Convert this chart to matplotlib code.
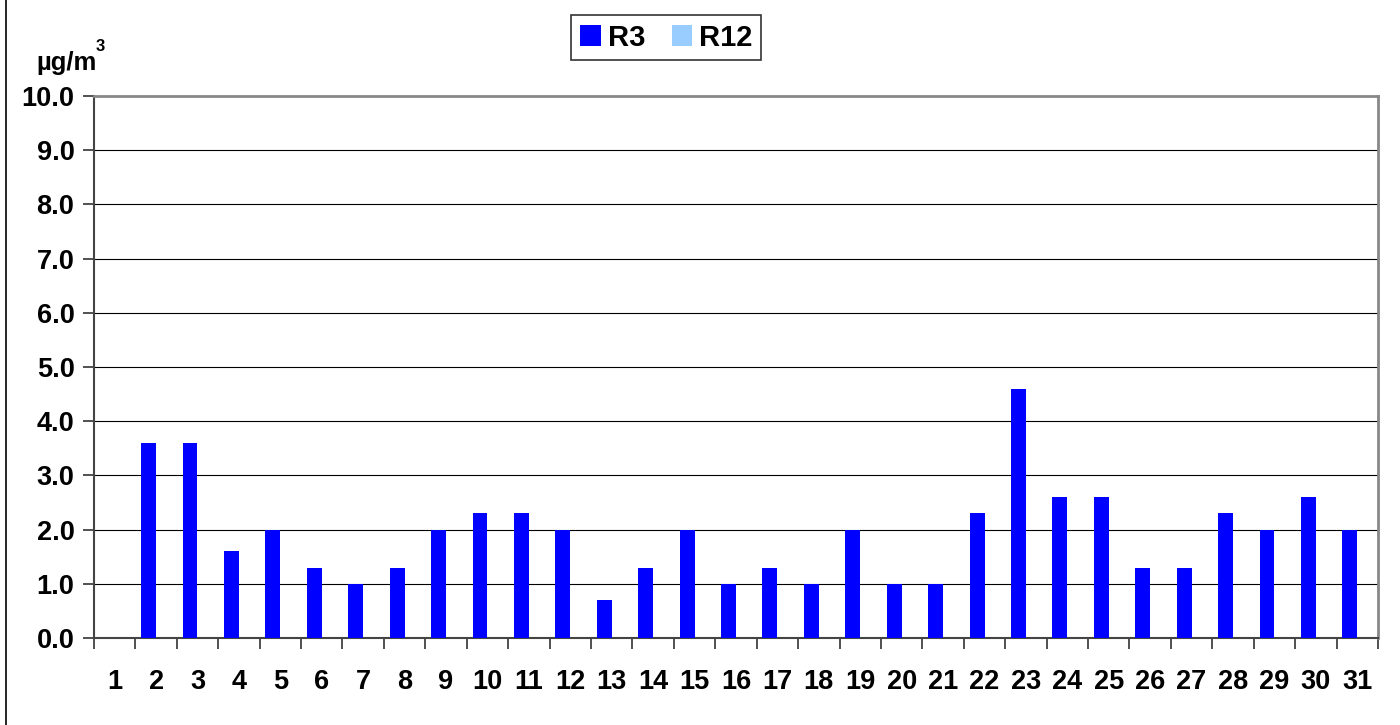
import numpy as np
import matplotlib
matplotlib.use("Agg")
import matplotlib.pyplot as plt
from matplotlib.lines import Line2D

plt.rcParams['font.family'] = ['Liberation Sans', 'DejaVu Sans']
plt.rcParams['font.weight'] = 'bold'

days = [str(d) for d in range(1, 32)]
r3 = [0, 3.6, 3.6, 1.6, 2.0, 1.3, 1.0, 1.3, 2.0, 2.3, 2.3, 2.0, 0.7, 1.3, 2.0,
      1.0, 1.3, 1.0, 2.0, 1.0, 1.0, 2.3, 4.6, 2.6, 2.6, 1.3, 1.3, 2.3, 2.0, 2.6, 2.0]
r12 = [np.nan] * 31
yticks = np.arange(0, 10.5, 1.0)

fig = plt.figure(figsize=(14, 7.25), dpi=100)
ax = fig.add_axes([0.0671, 0.12, 0.9172, 0.7476])

x = np.arange(len(days))
w = 0.36
ax.bar(x - w / 2, r3, width=w, color='#0000FF', label='R3', zorder=3)
ax.bar(x + w / 2, np.nan_to_num(r12), width=w, color='#99CCFF', label='R12', zorder=3)

ax.set_xlim(-0.5, len(days) - 0.5)
ax.set_ylim(0, 10)
ax.set_yticks(yticks)
ax.set_yticklabels([f"{v:.1f}" for v in yticks], fontsize=19.5, fontweight='bold')
ax.yaxis.grid(True, color='black', linewidth=0.8, zorder=0)

# category labels centered, ticks on the boundaries
ax.set_xticks(x)
ax.set_xticklabels(days, fontsize=19.5, fontweight='bold')
ax.tick_params(axis='x', which='major', length=0, pad=22)
ax.set_xticks(np.arange(-0.5, len(days)), minor=True)
ax.tick_params(axis='x', which='minor', length=8, width=1.2, color='#333333', direction='out')
ax.tick_params(axis='y', length=8, width=1.2, color='#333333', pad=6)

for s in ['left', 'bottom']:
    ax.spines[s].set_color('#444444')
    ax.spines[s].set_linewidth(1.5)
for s in ['top', 'right']:
    ax.spines[s].set_color('#888888')
    ax.spines[s].set_linewidth(2)

leg = fig.legend(loc='center', bbox_to_anchor=(0.476, 0.948), ncol=2,
                 prop={'weight': 'bold', 'size': 21}, frameon=True, fancybox=False,
                 edgecolor='black', handlelength=0.7, handleheight=0.7,
                 handletextpad=0.25, columnspacing=0.9, borderpad=0.3,
                 borderaxespad=0)
leg.get_frame().set_linewidth(1.2)

fig.text(0.026, 0.903, "µg/m", fontsize=18.5, fontweight='bold', ha='left', va='baseline')
fig.text(0.0685, 0.930, "3", fontsize=12, fontweight='bold', ha='left', va='baseline')

fig.add_artist(Line2D([0.0045, 0.0045], [0, 1], transform=fig.transFigure,
                      color='black', linewidth=1.2))

fig.savefig("out.png", dpi=100)
